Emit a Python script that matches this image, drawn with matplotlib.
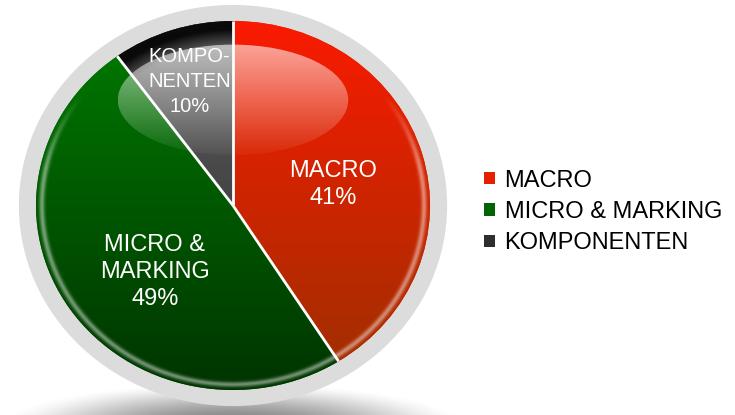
import numpy as np
import matplotlib.pyplot as plt
from matplotlib.colors import LinearSegmentedColormap
from matplotlib.patches import Ellipse

# data
names = ["MACRO", "MICRO & MARKING", "KOMPONENTEN"]
inner_names = ["MACRO", "MICRO &\nMARKING", "KOMPO-\nNENTEN"]
shares = [41, 49, 10]
top_colors = ["#fa1a00", "#007c00", "#626262"]
bottom_colors = ["#9c3000", "#003400", "#242424"]
legend_colors = ["#e42000", "#006400", "#2e2e2e"]

plt.rcParams["font.family"] = ["Liberation Sans", "DejaVu Sans"]

fig = plt.figure(figsize=(7.35, 4.15), dpi=100)
ax = fig.add_axes([0, 0, 1, 1])

# pie is drawn with radius 1, the axes is stretched so it comes out
# 197 px wide / 184.5 px tall around (233, 205.5) like the reference
wedges, _ = ax.pie(
    shares,
    colors=legend_colors,
    startangle=90,
    counterclock=False,
    radius=1,
    center=(0, 0),
    wedgeprops=dict(linewidth=0, zorder=2),
)

# grey ring behind the pie
ax.add_patch(Ellipse((0, 0), 2 * 1.087, 2 * 1.087, facecolor="#dcdcdc",
                     edgecolor="none", zorder=1))

# soft shadow under the ring
yy, xx = np.mgrid[-0.85:-1.14:120j, -1.4:1.4:400j]
d = (xx / 1.2) ** 2 + ((yy + 1.2) / 0.24) ** 2
shadow = np.zeros(xx.shape + (4,))
shadow[..., 3] = 0.5 * np.clip(1 - d, 0, 1) ** 1.6
ax.imshow(shadow, extent=(-1.4, 1.4, -1.14, -0.85), aspect="auto", zorder=0)

# vertical gradient in each slice
ramp = np.linspace(0, 1, 256)[:, None]
for w, c0, c1 in zip(wedges, top_colors, bottom_colors):
    cmap = LinearSegmentedColormap.from_list("grad", [c0, c1])
    im = ax.imshow(ramp, cmap=cmap, extent=(-1, 1, -1, 1), aspect="auto",
                   origin="upper", zorder=3)
    im.set_clip_path(w)

yy, xx = np.mgrid[1:-1:500j, -1:1:500j]
rr = np.hypot(xx, yy)

# dark band along the top rim of the small slice
band = np.zeros(xx.shape + (4,))
band[..., 3] = 0.9 * np.clip((rr - 0.85) / 0.1, 0, 1) * np.clip(yy / 0.5, 0, 1)
im = ax.imshow(band, extent=(-1, 1, -1, 1), aspect="auto", zorder=4)
im.set_clip_path(wedges[2])

# light bevel along the lower rim
rim = np.ones(xx.shape + (4,))
rim[..., 3] = (0.45 * np.exp(-((rr - 0.972) / 0.014) ** 2)
               * np.clip((0.6 - yy) / 0.4, 0, 1) * (rr <= 1))
ax.imshow(rim, extent=(-1, 1, -1, 1), aspect="auto", zorder=4)

# glossy highlight
hl = Ellipse((0, 0.572), 1.17, 0.6, transform=ax.transData)
gloss = np.ones((200, 1, 4))
gloss[:, 0, 3] = np.linspace(0.6, 0.04, 200)
im = ax.imshow(gloss, extent=(-0.585, 0.585, 0.272, 0.872), aspect="auto",
               zorder=5)
im.set_clip_path(hl)

# white separators between slices
for w in wedges:
    th = np.radians(w.theta1)
    ax.plot([0, np.cos(th)], [0, np.sin(th)], color="white", lw=2,
            solid_capstyle="butt", zorder=6)

# the small slice gets a smaller label, as in the original
label_xy = [(0.508, 0.113), (-0.396, -0.36), (-0.22, 0.672)]
label_size = [17, 17, 14.5]
label_spacing = [1.27, 1.27, 1.38]
for (x, y), name, share, fs, ls in zip(label_xy, inner_names, shares,
                                       label_size, label_spacing):
    ax.text(x, y, f"{name}\n{share}%", color="white", fontsize=fs,
            ha="center", va="center", multialignment="center",
            linespacing=ls, zorder=7)

fig.legend(
    wedges,
    names,
    loc="center left",
    bbox_to_anchor=(484 / 735, 1 - 212 / 415),
    frameon=False,
    fontsize=17,
    handlelength=0.45,
    handleheight=0.45,
    handletextpad=0.42,
    labelspacing=0.4,
    borderpad=0,
    borderaxespad=0,
)

ax.set_xlim(-233 / 197, (735 - 233) / 197)
ax.set_ylim(-(415 - 205.5) / 184.5, 205.5 / 184.5)
ax.set_aspect("auto")
ax.axis("off")

fig.savefig("out.png", dpi=100)
